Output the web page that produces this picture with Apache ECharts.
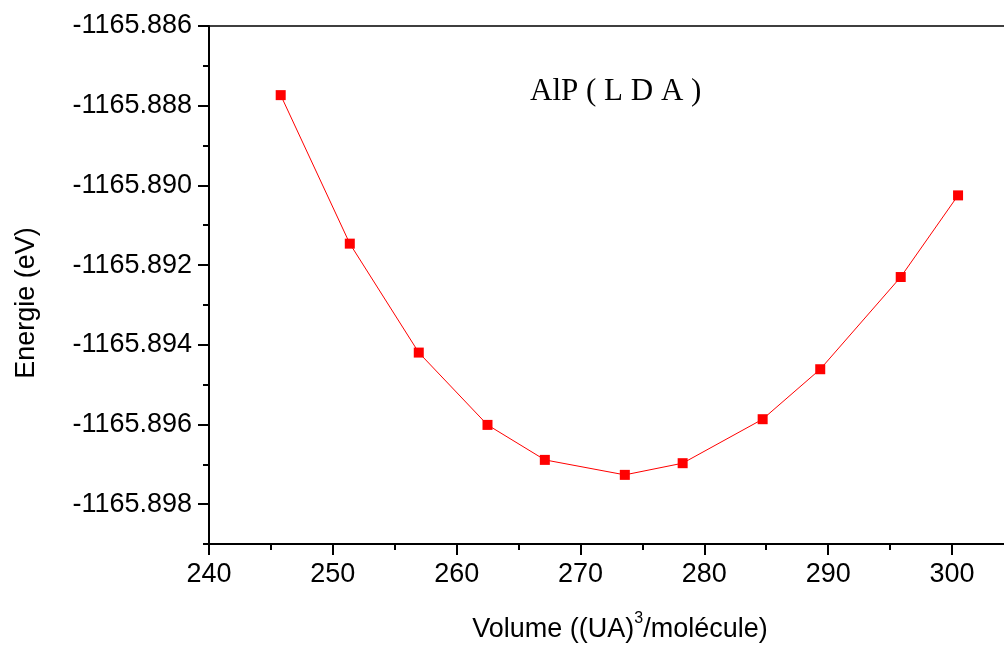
<!DOCTYPE html>
<html>
<head>
<meta charset="utf-8">
<script src="https://cdn.jsdelivr.net/npm/echarts@6/dist/echarts.min.js"></script>
<style>
html,body{margin:0;padding:0;background:#fff;}
#chart{width:1004px;height:645px;}
</style>
</head>
<body>
<div id="chart"></div>
<script>
const volumes = [245.79, 251.37, 256.94, 262.49, 267.12, 273.58, 278.25, 284.71, 289.36, 295.86, 300.49];
const energies = [-1165.887735, -1165.891462, -1165.894196, -1165.896011, -1165.896889, -1165.897265, -1165.896972, -1165.895868, -1165.894614, -1165.892300, -1165.890251];
const xMajorTicks = [240, 250, 260, 270, 280, 290, 300];
const xMinorTicks = [245, 255, 265, 275, 285, 295];
const yMajorTicks = [-1165.898, -1165.896, -1165.894, -1165.892, -1165.890, -1165.888, -1165.886];
const yMinorTicks = [-1165.899, -1165.897, -1165.895, -1165.893, -1165.891, -1165.889, -1165.887];
const titleText = 'AlP ( L D A )';
const yName = 'Energie (eV)';

const chart = echarts.init(document.getElementById('chart'), null, {renderer: 'canvas'});
const X_MIN = 240, X_MAX = 304.2, Y_MIN = -1165.899, Y_MAX = -1165.886;
const FONT = 'Liberation Sans, Arial, sans-serif';

const option = {
  animation: false,
  backgroundColor: '#fff',
  grid: {left: 209, right: 0, top: 26, bottom: 101},
  xAxis: [
    {
      type: 'value', position: 'bottom', min: X_MIN, max: X_MAX,
      axisLine: {show: true, lineStyle: {color: '#000', width: 2}},
      axisTick: {show: true, inside: false, length: 11, lineStyle: {color: '#000', width: 2}, customValues: xMajorTicks},
      axisLabel: {show: true, margin: 17, color: '#000', fontSize: 27, fontFamily: FONT, customValues: xMajorTicks, formatter: v => String(Math.round(v))},
      splitLine: {show: false}
    },
    {
      type: 'value', position: 'bottom', min: X_MIN, max: X_MAX,
      axisLine: {show: false},
      axisTick: {show: true, inside: false, length: 6, lineStyle: {color: '#000', width: 2}, customValues: xMinorTicks},
      axisLabel: {show: false},
      splitLine: {show: false}
    },
    {
      type: 'value', position: 'top', min: X_MIN, max: X_MAX,
      axisLine: {show: true, onZero: false, lineStyle: {color: '#000', width: 1.5}},
      axisTick: {show: false},
      axisLabel: {show: false},
      splitLine: {show: false}
    }
  ],
  yAxis: [
    {
      type: 'value', position: 'left', min: Y_MIN, max: Y_MAX, scale: true,
      axisLine: {show: true, onZero: false, lineStyle: {color: '#000', width: 2}},
      axisTick: {show: true, inside: false, length: 11, lineStyle: {color: '#000', width: 2}, customValues: yMajorTicks},
      axisLabel: {show: true, margin: 17, color: '#000', fontSize: 27, fontFamily: FONT, customValues: yMajorTicks, formatter: v => v.toFixed(3)},
      splitLine: {show: false}
    },
    {
      type: 'value', position: 'left', min: Y_MIN, max: Y_MAX, scale: true,
      axisLine: {show: false},
      axisTick: {show: true, inside: false, length: 6, lineStyle: {color: '#000', width: 2}, customValues: yMinorTicks},
      axisLabel: {show: false},
      splitLine: {show: false}
    }
  ],
  graphic: [
    {
      type: 'text', left: 530, top: 76, z: 10,
      style: {text: titleText, fontFamily: 'Liberation Serif, Times New Roman, serif', fontSize: 31, fill: '#000'}
    },
    {
      type: 'text', x: 27, y: 303, rotation: Math.PI / 2, z: 10,
      style: {text: yName, fontFamily: FONT, fontSize: 27, fill: '#000', textAlign: 'center', textVerticalAlign: 'middle'}
    },
    {
      type: 'text', x: 620, y: 630, z: 10,
      style: {
        text: '{n|Volume ((UA)}{s|3}{n|/molécule)}',
        textAlign: 'center', textVerticalAlign: 'middle',
        rich: {
          n: {fontFamily: FONT, fontSize: 27, fill: '#000', color: '#000'},
          s: {fontFamily: FONT, fontSize: 16, fill: '#000', color: '#000', verticalAlign: 'top', padding: [0, 0, 22, 0]}
        }
      }
    }
  ],
  series: [
    {
      type: 'line',
      xAxisIndex: 0, yAxisIndex: 0,
      data: volumes.map((v, i) => [v, energies[i]]),
      symbol: 'rect', symbolSize: 10,
      itemStyle: {color: '#ff0000'},
      lineStyle: {color: '#ff0000', width: 1},
      clip: false
    }
  ]
};
chart.setOption(option);
</script>
</body>
</html>
